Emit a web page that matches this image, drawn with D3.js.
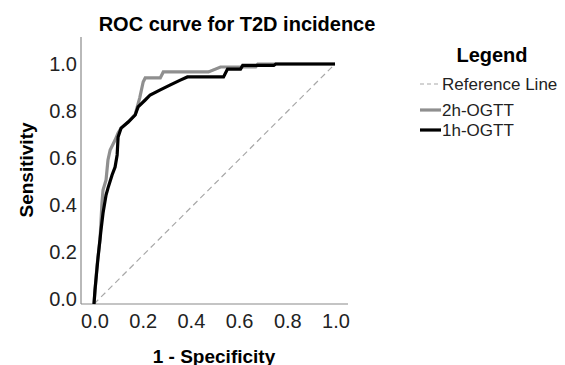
<!DOCTYPE html>
<html>
<head>
<meta charset="utf-8">
<script src="https://cdn.jsdelivr.net/npm/d3@7"></script>
<style>
body { margin: 0; background: #fff; }
svg { font-family: "Liberation Sans", Arial, sans-serif; }
</style>
</head>
<body>
<svg id="chart" width="565" height="365"></svg>
<script>
// data
var fpr2h = [0, 0.004, 0.0125, 0.025, 0.033, 0.0375, 0.05, 0.058, 0.067, 0.0875, 0.1, 0.1125, 0.142, 0.171, 0.19, 0.204, 0.2125, 0.275, 0.2875, 0.475, 0.525, 0.671, 0.68, 1];
var tpr2h = [0, 0.05, 0.16, 0.267, 0.42, 0.475, 0.517, 0.6, 0.642, 0.683, 0.713, 0.733, 0.758, 0.79, 0.86, 0.925, 0.942, 0.942, 0.967, 0.967, 0.9875, 0.9875, 1, 1];

var fpr1h = [0, 0.004, 0.017, 0.029, 0.0375, 0.05, 0.058, 0.075, 0.0875, 0.096, 0.1, 0.1125, 0.142, 0.171, 0.183, 0.2125, 0.233, 0.275, 0.317, 0.358, 0.3875, 0.5375, 0.554, 0.608, 0.617, 0.746, 0.754, 1];
var tpr1h = [0, 0.058, 0.196, 0.308, 0.379, 0.454, 0.483, 0.5375, 0.571, 0.621, 0.696, 0.733, 0.758, 0.7875, 0.821, 0.85, 0.871, 0.892, 0.913, 0.933, 0.946, 0.946, 0.979, 0.979, 0.994, 0.994, 1, 1];

var refLine = [0, 1];
var ticks = [0, 0.2, 0.4, 0.6, 0.8, 1.0];
var legendNames = ["Reference Line", "2h-OGTT", "1h-OGTT"];

const svg = d3.select("#chart");

const x = d3.scaleLinear().domain([0, 1]).range([94, 335]);
const y = d3.scaleLinear().domain([0, 1]).range([304, 64]);

// axis lines (no tick marks)
svg.append("line")
    .attr("x1", 81).attr("x2", 81)
    .attr("y1", 37).attr("y2", y(0))
    .attr("stroke", "#8a8a8a").attr("stroke-width", 1.2);
svg.append("line")
    .attr("x1", 81).attr("x2", 348)
    .attr("y1", y(0)).attr("y2", y(0))
    .attr("stroke", "#8a8a8a").attr("stroke-width", 1.2);

svg.selectAll(".xt")
    .data(ticks)
    .enter().append("text")
    .attr("class", "xt")
    .attr("x", function(d){ return x(d) + 1; })
    .attr("y", 328)
    .attr("text-anchor", "middle")
    .attr("font-size", 20)
    .attr("fill", "#222")
    .text(function(d){ return d.toFixed(1); });

svg.selectAll(".yt")
    .data(ticks)
    .enter().append("text")
    .attr("class", "yt")
    .attr("x", 77)
    .attr("y", function(d){ return y(d) + 7 - 5 * (1 - d); })
    .attr("text-anchor", "end")
    .attr("font-size", 20)
    .attr("fill", "#222")
    .text(function(d){ return d.toFixed(1); });

// reference diagonal
svg.append("line")
    .attr("x1", x(refLine[0])).attr("y1", y(refLine[0]))
    .attr("x2", x(refLine[1])).attr("y2", y(refLine[1]))
    .attr("stroke", "#a8a8a8").attr("stroke-width", 1.2)
    .attr("stroke-dasharray", "6,4");

const line = d3.line()
    .x(function(d){ return x(d[0]); })
    .y(function(d){ return y(d[1]); });

svg.append("path")
    .datum(d3.zip(fpr2h, tpr2h))
    .attr("d", line)
    .attr("fill", "none")
    .attr("stroke", "#8f8f8f")
    .attr("stroke-width", 3.2);

svg.append("path")
    .datum(d3.zip(fpr1h, tpr1h))
    .attr("d", line)
    .attr("fill", "none")
    .attr("stroke", "#000")
    .attr("stroke-width", 3.2);

// titles
svg.append("text")
    .attr("x", 237).attr("y", 31)
    .attr("text-anchor", "middle")
    .attr("font-size", 20).attr("font-weight", "bold")
    .text("ROC curve for T2D incidence");

svg.append("text")
    .attr("x", 214).attr("y", 363)
    .attr("text-anchor", "middle")
    .attr("font-size", 19).attr("font-weight", "bold")
    .text("1 - Specificity");

svg.append("text")
    .attr("transform", "translate(33,170) rotate(-90)")
    .attr("text-anchor", "middle")
    .attr("font-size", 19).attr("font-weight", "bold")
    .text("Sensitivity");

// legend
svg.append("text")
    .attr("x", 492).attr("y", 62)
    .attr("text-anchor", "middle")
    .attr("font-size", 20).attr("font-weight", "bold")
    .text("Legend");

var legY = [84, 110, 130];
var legStyle = [
    {c: "#a8a8a8", w: 1.2, dash: "4,3"},
    {c: "#8f8f8f", w: 3.2, dash: null},
    {c: "#000", w: 3.2, dash: null}
];

legendNames.forEach(function(n, i){
    svg.append("line")
        .attr("x1", 420).attr("x2", 441)
        .attr("y1", legY[i]).attr("y2", legY[i])
        .attr("stroke", legStyle[i].c)
        .attr("stroke-width", legStyle[i].w)
        .attr("stroke-dasharray", legStyle[i].dash);
    svg.append("text")
        .attr("x", 442).attr("y", legY[i] + 6)
        .attr("font-size", 17)
        .attr("fill", "#222")
        .text(n);
});
</script>
</body>
</html>
